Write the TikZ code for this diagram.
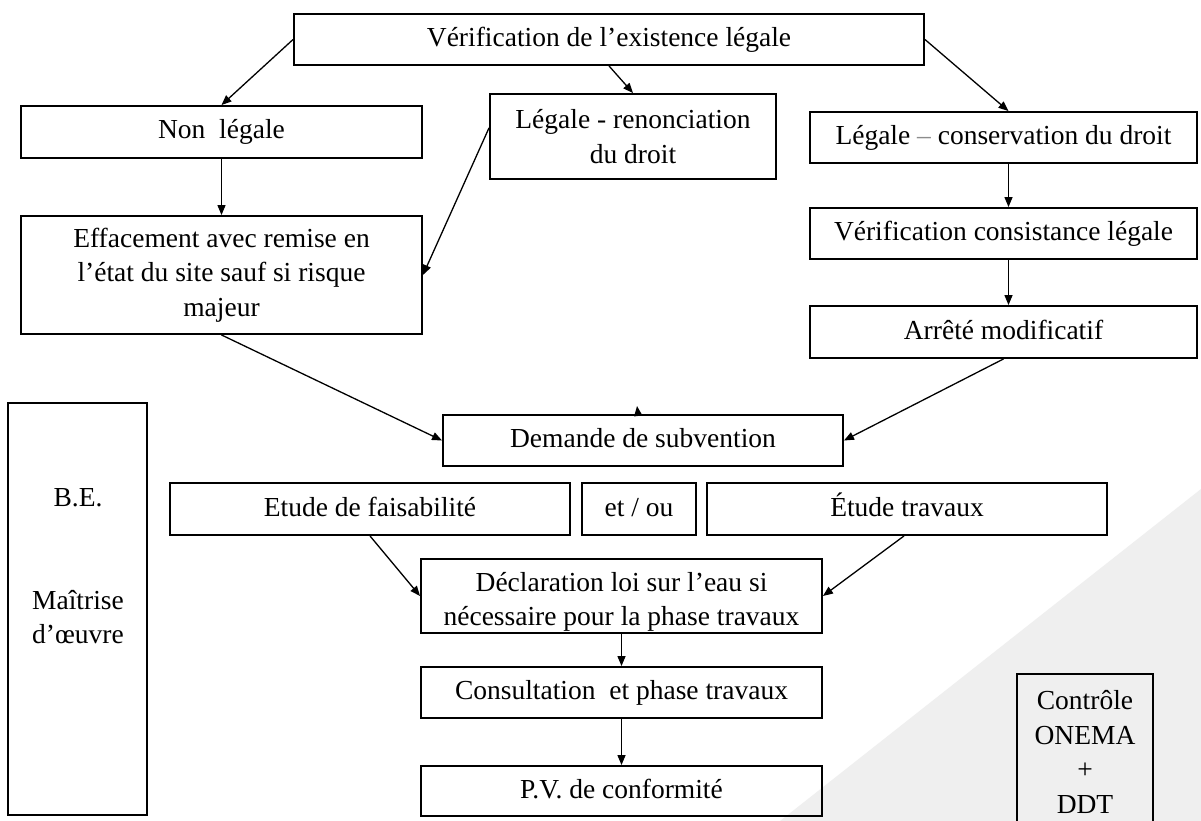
\documentclass[tikz,border=0pt]{standalone}
\usepackage{fontspec}
\setmainfont{Liberation Serif}
\usetikzlibrary{arrows.meta,calc}
\definecolor{bgshade}{HTML}{EFEFEF}
\newcommand{\diagfont}{\fontsize{27.5}{34.5}\selectfont}
\begin{document}
\begin{tikzpicture}[x=1pt,y=-1pt,
  box/.style={draw=black, line width=1.9pt, inner sep=0pt, align=center, font=\diagfont},
  one/.style={text height=20pt, text depth=6pt},
  txt/.style={inner sep=0pt, align=center, font=\diagfont},
  arr/.style={line width=1.3pt, -{Triangle[length=10pt,width=8pt]}},
]
\useasboundingbox (0,0) rectangle (1201,821);
\clip (0,0) rectangle (1201,821);
\fill[white] (0,0) rectangle (1201,821);
\fill[bgshade] (780,821) -- (1201,489) -- (1201,821) -- cycle;

% boxes
\node[box, one, minimum width=630, minimum height=51] (top) at (609,39.5) {Vérification de l’existence légale};
\node[box, one, minimum width=401, minimum height=52] (nonleg) at (221.5,132) {Non\ \ légale};
\node[box, minimum width=286, minimum height=85] (renon) at (633,136.5) {Légale - renonciation\\du droit};
\node[box, one, minimum width=387, minimum height=51] (conserv) at (1003.5,137.5) {Légale \textcolor{black!45}{–} conservation du droit};
\node[box, minimum width=401, minimum height=118] (eff) at (221.5,275) {Effacement avec remise en\\l’état du site sauf si risque\\majeur};
\node[box, one, minimum width=387, minimum height=51] (verif) at (1003.5,233.5) {Vérification consistance légale};
\node[box, one, minimum width=387, minimum height=52] (arrete) at (1003.5,332) {Arrêté modificatif};
\node[box, one, minimum width=400, minimum height=51] (demande) at (643,440.5) {Demande de subvention};
\node[box, one, minimum width=400, minimum height=52] (fais) at (370,509) {Etude de faisabilité};
\node[box, one, minimum width=114, minimum height=52] (etou) at (639,509) {et / ou};
\node[box, one, minimum width=400, minimum height=52] (travaux) at (907,509) {Étude travaux};
\node[box, minimum width=401, minimum height=74] (decl) at (621.5,596) {};
\node[txt] (decltxt) at (621.5,602) {Déclaration loi sur l’eau si\\nécessaire pour la phase travaux};
\node[box, one, minimum width=401, minimum height=51] (consult) at (621.5,692.5) {Consultation\ \ et phase travaux};
\node[box, one, minimum width=401, minimum height=50] (pv) at (621.5,791) {P.V. de conformité};
\node[box, minimum width=139, minimum height=412] (be) at (77.5,609) {};
\node[txt] (betxt) at (78,566.5) {B.E.\\[68pt]Maîtrise\\d’œuvre};
\node[box, minimum width=136, minimum height=160] (ctrl) at (1085,754) {};
\node[txt] (ctrltxt) at (1085,752) {Contrôle\\ONEMA\\+\\DDT};

% connectors
\draw[arr] (top.west) -- (nonleg.north);
\draw[arr] (top.south) -- (renon.north);
\draw[arr] (top.east) -- ([xshift=5pt]conserv.north);
\draw[arr] (nonleg.south) -- (eff.north);
\draw[arr] ($(renon.north west)!0.4!(renon.south west)$) -- (eff.east);
\draw[arr] ([xshift=5pt]conserv.south) -- ([xshift=5pt]verif.north);
\draw[arr] ([xshift=5pt]verif.south) -- ([xshift=5pt]arrete.north);
\draw[arr] (eff.south) -- (demande.west);
\draw[arr] (arrete.south) -- (demande.east);
\coordinate (stub) at (637,406);
\draw[arr] ([xshift=-5pt]demande.north) -- (stub);
\draw[arr] (fais.south) -- (decl.west);
\draw[arr] ([xshift=-3pt]travaux.south) -- (decl.east);
\draw[arr] (decl.south) -- (consult.north);
\draw[arr] (consult.south) -- (pv.north);
\end{tikzpicture}
\end{document}
